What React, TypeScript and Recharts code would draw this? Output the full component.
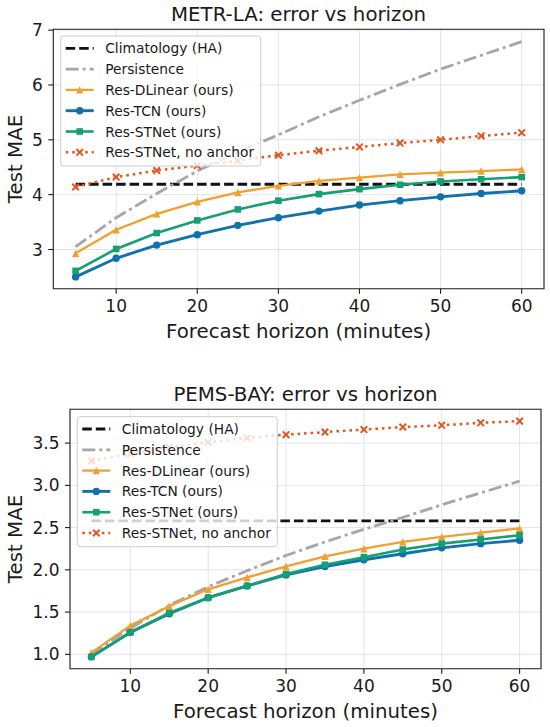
import React from 'react';
import { LineChart, Line, XAxis, YAxis, CartesianGrid, ReferenceArea } from 'recharts';

const horizons = [5, 10, 15, 20, 25, 30, 35, 40, 45, 50, 55, 60];
const xTicks = [10, 20, 30, 40, 50, 60];

// METR-LA
const laClimatology = [4.19, 4.19, 4.19, 4.19, 4.19, 4.19, 4.19, 4.19, 4.19, 4.19, 4.19, 4.19];
const laPersistence = [3.05, 3.58, 4.02, 4.43, 4.78, 5.09, 5.42, 5.72, 6.01, 6.29, 6.54, 6.79];
const laDLinear = [2.93, 3.36, 3.65, 3.87, 4.04, 4.16, 4.25, 4.31, 4.37, 4.4, 4.43, 4.46];
const laTCN = [2.5, 2.84, 3.08, 3.27, 3.44, 3.58, 3.7, 3.81, 3.89, 3.96, 4.02, 4.07];
const laSTNet = [2.61, 3.01, 3.3, 3.53, 3.73, 3.89, 4.01, 4.1, 4.18, 4.24, 4.28, 4.32];
const laNoAnchor = [4.14, 4.32, 4.44, 4.53, 4.62, 4.72, 4.8, 4.87, 4.94, 5.0, 5.07, 5.13];
const laYTicks = [3, 4, 5, 6, 7];

// PEMS-BAY
const bayClimatology = [2.58, 2.58, 2.58, 2.58, 2.58, 2.58, 2.58, 2.58, 2.58, 2.58, 2.58, 2.58];
const bayPersistence = [1.0, 1.31, 1.58, 1.8, 1.99, 2.17, 2.33, 2.48, 2.62, 2.77, 2.91, 3.05];
const bayDLinear = [1.02, 1.34, 1.57, 1.77, 1.91, 2.04, 2.16, 2.25, 2.33, 2.39, 2.44, 2.49];
const bayTCN = [0.97, 1.26, 1.48, 1.67, 1.81, 1.94, 2.04, 2.12, 2.19, 2.26, 2.31, 2.35];
const baySTNet = [0.97, 1.26, 1.49, 1.67, 1.81, 1.95, 2.06, 2.15, 2.24, 2.31, 2.36, 2.41];
const bayNoAnchor = [3.29, 3.37, 3.45, 3.51, 3.56, 3.6, 3.63, 3.66, 3.69, 3.71, 3.74, 3.76];
const bayYTicks = [1.0, 1.5, 2.0, 2.5, 3.0, 3.5];

const FONT = '"DejaVu Sans", Verdana, sans-serif';
const INK = '#1a1a1a';
const X_DOMAIN: [number, number] = [2.25, 62.75];

const series = [
  { key: 'clim', label: 'Climatology (HA)', color: '#111111', dash: '9.5 4', width: 2.8, marker: '' },
  { key: 'pers', label: 'Persistence', color: '#a6a6a6', dash: '13 4 3 4', width: 2.8, marker: '' },
  { key: 'dlin', label: 'Res-DLinear (ours)', color: '#f0a030', dash: undefined, width: 2.3, marker: 'tri' },
  { key: 'tcn', label: 'Res-TCN (ours)', color: '#1170ae', dash: undefined, width: 2.9, marker: 'circle' },
  { key: 'stn', label: 'Res-STNet (ours)', color: '#14a072', dash: undefined, width: 2.6, marker: 'square' },
  { key: 'noa', label: 'Res-STNet, no anchor', color: '#dd5a22', dash: '2.6 3.9', width: 2.5, marker: 'x' },
];

function buildRows(clim: number[], pers: number[], dlin: number[], tcn: number[], stn: number[], noa: number[]) {
  return horizons.map((h, i) => ({ h, clim: clim[i], pers: pers[i], dlin: dlin[i], tcn: tcn[i], stn: stn[i], noa: noa[i] }));
}

const laRows = buildRows(laClimatology, laPersistence, laDLinear, laTCN, laSTNet, laNoAnchor);
const bayRows = buildRows(bayClimatology, bayPersistence, bayDLinear, bayTCN, baySTNet, bayNoAnchor);

function drawMarker(kind: string, cx: number, cy: number, color: string, key?: any) {
  if (kind === 'tri') {
    const s = 3.7;
    return <polygon key={key} points={`${cx},${cy - s} ${cx - s},${cy + s} ${cx + s},${cy + s}`} fill={color} />;
  }
  if (kind === 'circle') return <circle key={key} cx={cx} cy={cy} r={3.7} fill={color} />;
  if (kind === 'square') {
    const s = 3.3;
    return <rect key={key} x={cx - s} y={cy - s} width={2 * s} height={2 * s} fill={color} />;
  }
  if (kind === 'x') {
    const s = 3.3;
    return (
      <g key={key} stroke={color} strokeWidth={2}>
        <line x1={cx - s} y1={cy - s} x2={cx + s} y2={cy + s} />
        <line x1={cx - s} y1={cy + s} x2={cx + s} y2={cy - s} />
      </g>
    );
  }
  return <g key={key} />;
}

function Panel({ rows, top, height, margin, yWidth, xHeight, yDomain, yTicks, yFmt }: any) {
  return (
    <div style={{ position: 'absolute', left: 0, top, width: 550, height }}>
      <LineChart width={550} height={height} data={rows} margin={margin}>
        <CartesianGrid stroke="#e3e3e3" strokeWidth={1} />
        <XAxis
          dataKey="h"
          type="number"
          domain={X_DOMAIN}
          ticks={xTicks}
          height={xHeight}
          axisLine={false}
          tickLine={{ stroke: INK, strokeWidth: 1.1 }}
          tickSize={5}
          tickMargin={6}
          tick={{ fill: INK, fontSize: 17, fontFamily: FONT }}
          allowDataOverflow
        />
        <YAxis
          type="number"
          domain={yDomain}
          ticks={yTicks}
          width={yWidth}
          axisLine={false}
          tickLine={{ stroke: INK, strokeWidth: 1.1 }}
          tickSize={5}
          tickMargin={5.5}
          tickFormatter={yFmt}
          tick={{ fill: INK, fontSize: 17, fontFamily: FONT }}
          allowDataOverflow
        />
        {series.map((s) => (
          <Line
            key={s.key}
            type="linear"
            dataKey={s.key}
            stroke={s.color}
            strokeWidth={s.width}
            strokeDasharray={s.dash}
            strokeLinejoin="round"
            dot={s.marker ? (p: any) => drawMarker(s.marker, p.cx, p.cy, s.color, p.index) : false}
            activeDot={false}
            isAnimationActive={false}
          />
        ))}
        <ReferenceArea
          x1={X_DOMAIN[0]}
          x2={X_DOMAIN[1]}
          y1={yDomain[0]}
          y2={yDomain[1]}
          ifOverflow="visible"
          fill="none"
          fillOpacity={0}
          stroke="#222222"
          strokeWidth={1.1}
        />
      </LineChart>
    </div>
  );
}

function LegendBox({ x, y }: { x: number; y: number }) {
  return (
    <g>
      <rect x={x} y={y} width={200} height={130} rx={3} fill="#ffffff" fillOpacity={0.8} stroke="#cccccc" strokeWidth={1} />
      {series.map((s, i) => {
        const cy = y + 12.3 + i * 20.8;
        const x1 = x + 5;
        const x2 = x + 33;
        return (
          <g key={s.key}>
            <line x1={x1} x2={x2} y1={cy} y2={cy} stroke={s.color} strokeWidth={s.width} strokeDasharray={s.dash} />
            {s.marker ? drawMarker(s.marker, (x1 + x2) / 2, cy, s.color) : null}
            <text x={x + 44.5} y={cy + 5} fontSize={13.8} fontFamily={FONT} fill={INK}>
              {s.label}
            </text>
          </g>
        );
      })}
    </g>
  );
}

export default function App() {
  return (
    <div style={{ position: 'absolute', left: 0, top: 0, width: 550, height: 727, background: '#fff' }}>
      <Panel
        rows={laRows}
        top={0}
        height={363}
        margin={{ top: 29.3, right: 6, bottom: 0, left: 0 }}
        yWidth={53.3}
        xHeight={74.3}
        yDomain={[2.285, 7.015]}
        yTicks={laYTicks}
        yFmt={(v: number) => String(v)}
      />
      <Panel
        rows={bayRows}
        top={363}
        height={364}
        margin={{ top: 46.3, right: 9, bottom: 0, left: 0 }}
        yWidth={70}
        xHeight={58.3}
        yDomain={[0.83, 3.9]}
        yTicks={bayYTicks}
        yFmt={(v: number) => v.toFixed(1)}
      />
      <svg width={550} height={727} style={{ position: 'absolute', left: 0, top: 0, pointerEvents: 'none' }}>
        <g fontFamily={FONT} fill={INK} fontSize={19.8} textAnchor="middle">
          <text x={298.6} y={20.7}>METR-LA: error vs horizon</text>
          <text x={298.6} y={338}>Forecast horizon (minutes)</text>
          <text transform="translate(21.7,159) rotate(-90)">Test MAE</text>
          <text x={305.5} y={400.7}>PEMS-BAY: error vs horizon</text>
          <text x={305.5} y={718.3}>Forecast horizon (minutes)</text>
          <text transform="translate(21.7,539) rotate(-90)">Test MAE</text>
        </g>
        <LegendBox x={60.7} y={36} />
        <LegendBox x={77.3} y={416.7} />
      </svg>
    </div>
  );
}
